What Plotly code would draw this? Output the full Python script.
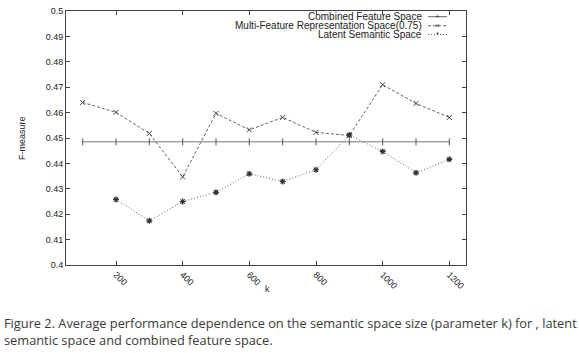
import plotly.graph_objects as go

k_values = [100, 200, 300, 400, 500, 600, 700, 800, 900, 1000, 1100, 1200]
combined = [0.4485] * 12
multi_feature = [0.4640, 0.4601, 0.4518, 0.4347, 0.4597, 0.4532, 0.4581, 0.4522, 0.4510, 0.4710, 0.4636, 0.4581]
latent_k = [200, 300, 400, 500, 600, 700, 800, 900, 1000, 1100, 1200]
latent = [0.4258, 0.4174, 0.4250, 0.4286, 0.4359, 0.4329, 0.4375, 0.4512, 0.4447, 0.4363, 0.4416]

series_names = ["Combined Feature Space", "Multi-Feature Representation Space(0.75)", "Latent Semantic Space"]
y_ticks = [0.4, 0.41, 0.42, 0.43, 0.44, 0.45, 0.46, 0.47, 0.48, 0.49, 0.5]
x_ticks = [200, 400, 600, 800, 1000, 1200]
caption = ("Figure 2. Average performance dependence on the semantic space size (parameter k) for , latent<br>"
           "semantic space and combined feature space.")

line_col = "#666666"
fig = go.Figure()
fig.add_trace(go.Scatter(x=k_values, y=combined, mode="lines+markers", name=series_names[0],
                         line=dict(color="#777777", width=1, dash="solid"),
                         marker=dict(symbol="line-ns-open", size=5, color="#555555", line=dict(width=1, color="#555555"))))
fig.add_trace(go.Scatter(x=k_values, y=multi_feature, mode="lines+markers", name=series_names[1],
                         line=dict(color=line_col, width=1, dash="3px,2px"),
                         marker=dict(symbol="x-thin-open", size=5, color="#444444", line=dict(width=1, color="#444444"))))
fig.add_trace(go.Scatter(x=latent_k, y=latent, mode="lines+markers", name=series_names[2],
                         line=dict(color=line_col, width=1, dash="1px,2px"),
                         marker=dict(symbol="asterisk-open", size=5, color="#333333", line=dict(width=1.2, color="#333333"))))

# gnuplot-style legend (text left of sample)
L, R, T, B = 66, 113, 11, 88
W, H = 579, 353
pw, ph = W - L - R, H - T - B
def px(x):
    return (x - L) / pw
def py(y):
    return 1 - (y - T) / ph

row_y = [16.7, 25.7, 34.5]
styles = [("solid", "+"), ("3px,2px", "×"), ("1px,2px", "*")]
annotations = []
shapes = []
for i, name in enumerate(series_names):
    annotations.append(dict(x=px(424), y=py(row_y[i]), xref="paper", yref="paper", text=name,
                            showarrow=False, xanchor="right", yanchor="middle",
                            font=dict(family="Liberation Sans, Arial", size=10, color="#222222")))
    shapes.append(dict(type="line", xref="paper", yref="paper", x0=px(428), x1=px(447),
                       y0=py(row_y[i]), y1=py(row_y[i]), line=dict(color=line_col, width=1, dash=styles[i][0])))
    annotations.append(dict(x=px(437.5), y=py(row_y[i]), xref="paper", yref="paper", text=styles[i][1],
                            showarrow=False, xanchor="center", yanchor="middle",
                            font=dict(family="Liberation Sans, Arial", size=8, color="#333333")))

annotations.append(dict(x=px(22), y=py(138), xref="paper", yref="paper", text="F-measure", textangle=-90,
                        showarrow=False, xanchor="center", yanchor="middle",
                        font=dict(family="Liberation Sans, Arial", size=9, color="#222222")))
annotations.append(dict(x=px(267), y=py(289), xref="paper", yref="paper", text="k",
                        showarrow=False, xanchor="center", yanchor="middle",
                        font=dict(family="Liberation Sans, Arial", size=9, color="#222222")))
annotations.append(dict(x=px(2), y=py(312), xref="paper", yref="paper", text=caption, align="left",
                        showarrow=False, xanchor="left", yanchor="top",
                        font=dict(family="Open Sans, Lato", size=12.8, color="#3a3a3a")))

fig.update_layout(
    width=W, height=H, margin=dict(l=L, r=R, t=T, b=B, autoexpand=False),
    plot_bgcolor="white", paper_bgcolor="white", showlegend=False,
    annotations=annotations, shapes=shapes,
    font=dict(family="Liberation Sans, Arial", size=9, color="#222222"),
)
fig.update_xaxes(range=[50, 1250], tickvals=x_ticks, ticktext=[str(v) for v in x_ticks], tickangle=45,
                 ticks="inside", ticklen=4, tickcolor="#444444", showgrid=False, zeroline=False,
                 showline=True, linecolor="#444444", linewidth=1, mirror="ticks", automargin=False,
                 tickfont=dict(size=9, color="#222222"))
fig.update_yaxes(range=[0.4, 0.5], tickvals=y_ticks, ticktext=[f"{v:g}" for v in y_ticks],
                 ticks="inside", ticklen=4, tickcolor="#444444", showgrid=False, zeroline=False,
                 showline=True, linecolor="#444444", linewidth=1, mirror="ticks", automargin=False,
                 tickfont=dict(size=9, color="#222222"))

fig.write_html("out.html", config={"displayModeBar": False},
               post_script="document.body.style.margin='0';document.body.style.overflow='hidden';")
